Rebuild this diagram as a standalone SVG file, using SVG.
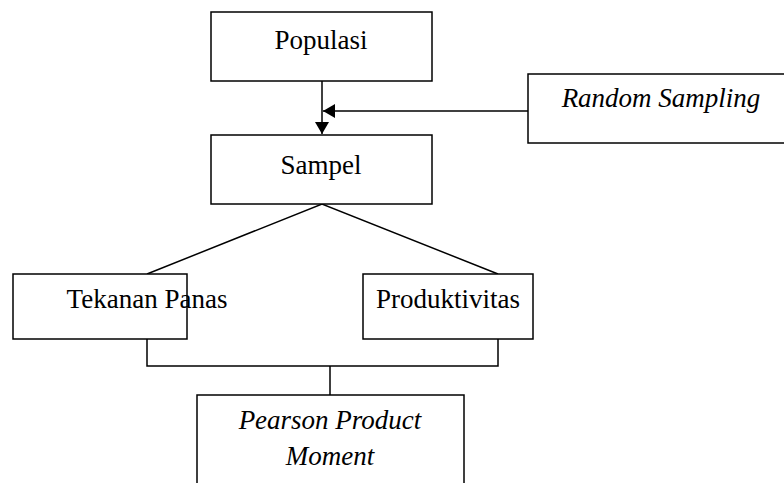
<svg xmlns="http://www.w3.org/2000/svg" width="784" height="483" viewBox="0 0 784 483">
<style>
.box{fill:#fff;stroke:#000;stroke-width:1.5}
.t{font-family:"Liberation Serif","Times New Roman",serif;font-size:27px;fill:#000;text-anchor:middle}
.i{font-style:italic}
.c{fill:none;stroke:#000;stroke-width:1.5}
</style>
<defs>
<marker id="ah" viewBox="0 0 12 14" refX="12" refY="7" markerWidth="12" markerHeight="14" markerUnits="userSpaceOnUse" orient="auto">
<path d="M0,0 L12,7 L0,14 Z" fill="#000"/>
</marker>
</defs>
<g id="connectors">
<line class="c" x1="322" y1="81" x2="322" y2="134" marker-end="url(#ah)"/>
<line class="c" x1="528" y1="111" x2="323" y2="111" marker-end="url(#ah)"/>
<polyline class="c" points="147,274 322,204 498,274"/>
<polyline class="c" points="147,339 147,366 498,366 498,339"/>
<line class="c" x1="330" y1="366" x2="330" y2="395"/>
</g>
<g id="populasi">
<rect class="box" x="211" y="12" width="221" height="69"/>
<text class="t" x="321" y="49">Populasi</text>
</g>
<g id="random-sampling">
<rect class="box" x="528" y="74" width="262" height="69"/>
<text class="t i" x="661" y="107">Random Sampling</text>
</g>
<g id="sampel">
<rect class="box" x="211" y="135" width="221" height="69"/>
<text class="t" x="321" y="174">Sampel</text>
</g>
<g id="tekanan-panas">
<rect class="box" x="13" y="274" width="174" height="65"/>
<text class="t" x="147" y="308">Tekanan Panas</text>
</g>
<g id="produktivitas">
<rect class="box" x="363" y="274" width="170" height="65"/>
<text class="t" x="448" y="308">Produktivitas</text>
</g>
<g id="pearson">
<rect class="box" x="197" y="395" width="267" height="100"/>
<text class="t i" x="330" y="429">Pearson Product</text>
<text class="t i" x="330" y="465">Moment</text>
</g>
</svg>
